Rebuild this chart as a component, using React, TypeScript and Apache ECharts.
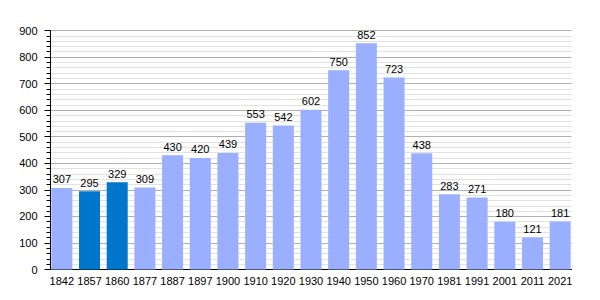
import React, { useEffect, useRef } from "react";
import * as echarts from "echarts";

const years = ["1842", "1857", "1860", "1877", "1887", "1897", "1900", "1910", "1920", "1930", "1940", "1950", "1960", "1970", "1981", "1991", "2001", "2011", "2021"];
const population = [307, 295, 329, 309, 430, 420, 439, 553, 542, 602, 750, 852, 723, 438, 283, 271, 180, 121, 181];
const highlighted = ["1857", "1860"];
const yTicks = [0, 100, 200, 300, 400, 500, 600, 700, 800, 900];

const LIGHT = "#9aafff";
const DARK = "#0077cc";
const FONT = "Liberation Sans, Arial, sans-serif";

export default function App() {
  const ref = useRef<HTMLDivElement>(null);
  useEffect(() => {
    if (!ref.current) return;
    const chart = echarts.init(ref.current, null, { renderer: "svg" });
    const yMax = yTicks[yTicks.length - 1];
    chart.setOption({
      animation: false,
      grid: [
        { left: 50.5, right: 28.5, top: 30.5, bottom: 30.5 },
        { left: 48, right: 26, top: 30.5, bottom: 30.5 },
      ],
      xAxis: [
        {
          type: "category",
          gridIndex: 0,
          data: years,
          axisLine: { lineStyle: { color: "#000", width: 1 } },
          axisTick: { show: false },
          axisLabel: { show: false },
          splitLine: { show: false },
        },
        {
          type: "category",
          gridIndex: 1,
          data: years,
          axisLine: { show: false },
          axisTick: { show: false },
          axisLabel: { color: "#000", fontSize: 11, fontFamily: FONT, margin: 6, interval: 0 },
        },
      ],
      yAxis: [
        {
          type: "value",
          gridIndex: 0,
          min: 0,
          max: yMax,
          interval: 100,
          axisLine: { show: true, lineStyle: { color: "#000", width: 1 } },
          axisTick: { show: true, length: 6, lineStyle: { color: "#000" } },
          minorTick: { show: true, splitNumber: 5, length: 4, lineStyle: { color: "#000" } },
          axisLabel: { color: "#000", fontSize: 11, fontFamily: FONT, margin: 13 },
          splitLine: { show: true, lineStyle: { color: "#b0b0b0", width: 1 } },
          minorSplitLine: { show: true, lineStyle: { color: "#e2e2e2", width: 1 } },
        },
        {
          type: "value",
          gridIndex: 1,
          min: 0,
          max: yMax,
          show: false,
          splitLine: { show: false },
        },
      ],
      series: [
        {
          type: "bar",
          xAxisIndex: 1,
          yAxisIndex: 1,
          barWidth: 21,
          data: population.map((v, i) => ({
            value: v,
            itemStyle: { color: highlighted.includes(years[i]) ? DARK : LIGHT },
          })),
          label: {
            show: true,
            position: "top",
            distance: 3,
            color: "#000",
            fontSize: 11,
            fontFamily: FONT,
          },
        },
      ],
    });
    return () => chart.dispose();
  }, []);
  return <div ref={ref} style={{ width: 600, height: 300, position: "absolute", left: 0, top: 0 }} />;
}
